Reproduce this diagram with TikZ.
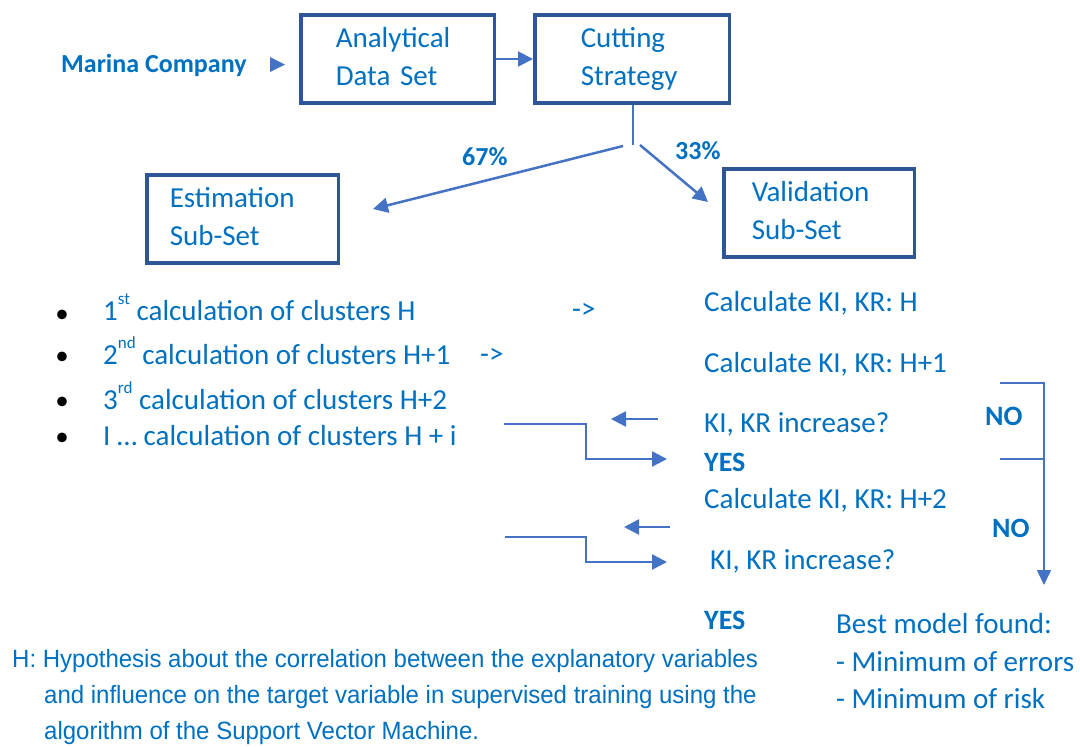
\documentclass[tikz,border=0pt]{standalone}
\usepackage{fontspec}
\setmainfont{Carlito}
\newfontfamily\notefont[FakeStretch=0.96]{Liberation Sans}
\usepackage{xcolor}
\usepackage{tikz}
\usetikzlibrary{arrows.meta}

\definecolor{txtblue}{HTML}{0070C0}
\definecolor{boxblue}{HTML}{2F5597}
\definecolor{arrblue}{HTML}{4472C4}

\newcommand{\ordsup}[1]{\raisebox{16pt}{\fontsize{17}{17}\selectfont #1}}
\newcommand{\dotmark}{{\fontsize{27}{27}\selectfont\textbullet}}

\begin{document}
\begin{tikzpicture}[x=1pt,y=-1pt,
  every node/.style={text=txtblue,font=\fontsize{29}{38}\selectfont},
  box/.style={draw=boxblue,line width=3.5pt,minimum height=88pt,align=left,
    execute at begin node=\strut,execute at end node=\strut},
  txt/.style={anchor=base west,inner sep=0pt},
  boldtxt/.style={txt,font=\fontsize{28}{34}\selectfont\bfseries},
  pct/.style={txt,font=\fontsize{26}{30}\selectfont\bfseries},
  note/.style={txt,font=\notefont\fontsize{25}{30}\selectfont},
  dot/.style={anchor=base,inner sep=0pt,text=black},
  flow/.style={draw=arrblue,line width=2.5pt,-{Triangle[length=15pt,width=15pt]}},
  rule/.style={draw=arrblue,line width=1.5pt}]
\useasboundingbox (0,0) rectangle (1080,747);

% top row
\node[pct]  (marina) at (61,72)      {Marina Company};
\fill[arrblue] (270,57) -- (285,64.5) -- (270,72) -- cycle;
\node[box,text width=123.5pt,inner xsep=35pt] (data) at (397.5,59) {Analytical\\Data Set};
\node[box,text width=102.5pt,inner xsep=46pt] (cut)  at (632,59)   {Cutting\\Strategy};

% split
\coordinate (fork)   at (633,145);
\coordinate (forkL)  at (623,146);
\coordinate (forkR)  at (640,145);
\coordinate (estTip) at (373,209);
\coordinate (valTip) at (708,202);
\node[pct] (p67) at (462,165) {67\%};
\node[pct] (p33) at (675,159) {33\%};

\node[box,text width=145.5pt,inner xsep=23pt] (est) at (242.5,219) {Estimation\\Sub-Set};
\node[box,text width=134.5pt,inner xsep=28pt] (val) at (819,213)   {Validation\\Sub-Set};

\path (data) edge[flow,line width=2pt] (cut)
      (cut.south -| fork) edge[rule] (fork)
      (forkL) edge[flow] (estTip)
      (forkR) edge[flow] (valTip);

% clusters
\node[dot] (dot1) at (62,322) {\dotmark};
\node[dot] (dot2) at (62,364) {\dotmark};
\node[dot] (dot3) at (62,409) {\dotmark};
\node[dot] (dot4) at (62,445) {\dotmark};
\node[txt] (cl1) at (103,320) {1\ordsup{st} calculation of clusters H};
\node[txt] (cl2) at (103,364) {2\ordsup{nd} calculation of clusters H+1};
\node[txt] (cl3) at (103,409) {3\ordsup{rd} calculation of clusters H+2};
\node[txt] (cl4) at (103,445) {I … calculation of clusters H + i};
\node[txt] (go1) at (572,318) {->};
\node[txt] (go2) at (480,363) {->};

% validation steps
\node[txt]     (calc1) at (704,311) {Calculate KI, KR: H};
\node[txt]     (calc2) at (704,372) {Calculate KI, KR: H+1};
\node[txt]     (inc1)  at (704,432) {KI, KR increase?};
\node[boldtxt] (yes1)  at (704,471) {YES};
\node[txt]     (calc3) at (704,508) {Calculate KI, KR: H+2};
\node[txt]     (inc2)  at (710,569) {KI, KR increase?};
\node[boldtxt] (yes2)  at (704,629) {YES};
\node[boldtxt] (no1)   at (985,425) {NO};
\node[boldtxt] (no2)   at (992,537) {NO};

\coordinate (backA) at (658,419);
\coordinate (backB) at (611,419);
\coordinate (backC) at (670,527);
\coordinate (backD) at (624,527);
\coordinate (stepA) at (504,424);
\coordinate (stepB) at (667,459);
\coordinate (stepC) at (505,537);
\coordinate (stepD) at (667,562);
\path (backA) edge[flow] (backB)
      (backC) edge[flow] (backD);
\draw[flow] (stepA) -- ++(82,0) |- (stepB);
\draw[flow] (stepC) -- ++(81,0) |- (stepD);

\coordinate (brTop) at (1000,383);
\coordinate (brMid) at (1000,459);
\coordinate (brEnd) at (1044,585);
\draw[rule,-{Triangle[length=15pt,width=14pt]}] (brTop) -| (brEnd);
\draw[rule] (brMid) -- (brMid -| brEnd);

% result
\node[txt] (best) at (836,633) {Best model found:};
\node[txt] (min1) at (836,671) {- Minimum of errors};
\node[txt] (min2) at (836,708) {- Minimum of risk};

% footnote
\node[note] (h1) at (12,667) {H: Hypothesis about the correlation between the explanatory variables};
\node[note] (h2) at (44,703) {and influence on the target variable in supervised training using the};
\node[note] (h3) at (44,739) {algorithm of the Support Vector Machine.};
\end{tikzpicture}
\end{document}
